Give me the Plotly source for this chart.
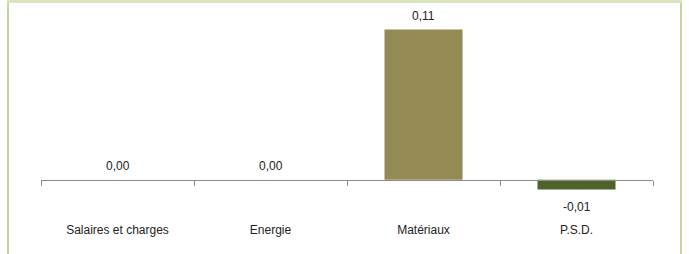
import plotly.graph_objects as go

categories = ["Salaires et charges", "Energie", "Matériaux", "P.S.D."]
values = [0.0, 0.0, 0.110, -0.0073]
bar_colors = ["#948A54", "#948A54", "#948A54", "#4F6228"]

W, H = 689, 254
ML, MR, MT, MB = 41, 36, 0, 0
y_range = [-0.0545, 0.1317]
zero_pos = (0 - y_range[0]) / (y_range[1] - y_range[0])

fig = go.Figure()
fig.add_trace(go.Bar(
    x=categories, y=values,
    marker=dict(color=bar_colors, line=dict(width=0)),
    hoverinfo="skip",
))

for c, v in zip(categories, values):
    txt = f"{v:.2f}".replace(".", ",")
    if txt == "-0,00":
        txt = "0,00"
    fig.add_annotation(
        x=c, y=v, text=txt, showarrow=False,
        yanchor="middle", xanchor="center",
        yshift=(14 if v >= 0 else -17),
        font=dict(family="Liberation Sans", size=12, color="#222222"),
    )

pw = W - ML - MR
ph = H - MT - MB
def px_x(p):
    return (p - ML) / pw
def px_y(p):
    return (H - MB - p) / ph

border = "#c3d69b"
fig.add_shape(type="line", xref="paper", yref="paper",
              x0=px_x(8), x1=px_x(8), y0=px_y(300), y1=px_y(2),
              line=dict(color=border, width=2))
fig.add_shape(type="line", xref="paper", yref="paper",
              x0=px_x(681), x1=px_x(681), y0=px_y(300), y1=px_y(2),
              line=dict(color=border, width=2))
fig.add_shape(type="line", xref="paper", yref="paper",
              x0=px_x(7), x1=px_x(682), y0=px_y(1.5), y1=px_y(1.5),
              line=dict(color="#d9e5bf", width=3))

fig.update_layout(
    width=W, height=H,
    margin=dict(l=ML, r=MR, t=MT, b=MB, pad=0, autoexpand=False),
    paper_bgcolor="white", plot_bgcolor="white",
    showlegend=False,
    bargap=0.49,
    separators=", ",
    xaxis=dict(
        type="category", automargin=False,
        anchor="free", position=zero_pos,
        showline=True, linecolor="#8c8c8c", linewidth=1,
        ticks="outside", tickson="boundaries", ticklen=5,
        tickcolor="#8c8c8c", tickwidth=1,
        ticklabelstandoff=39,
        tickfont=dict(family="Liberation Sans", size=12, color="#222222"),
        showgrid=False, zeroline=False, fixedrange=True,
    ),
    yaxis=dict(
        range=y_range, visible=False, showgrid=False, zeroline=False,
        fixedrange=True, automargin=False,
    ),
)

fig.write_html(
    "out.html",
    config={"displayModeBar": False, "staticPlot": True},
    post_script="document.body.style.margin='0';document.body.style.overflow='hidden';",
)
